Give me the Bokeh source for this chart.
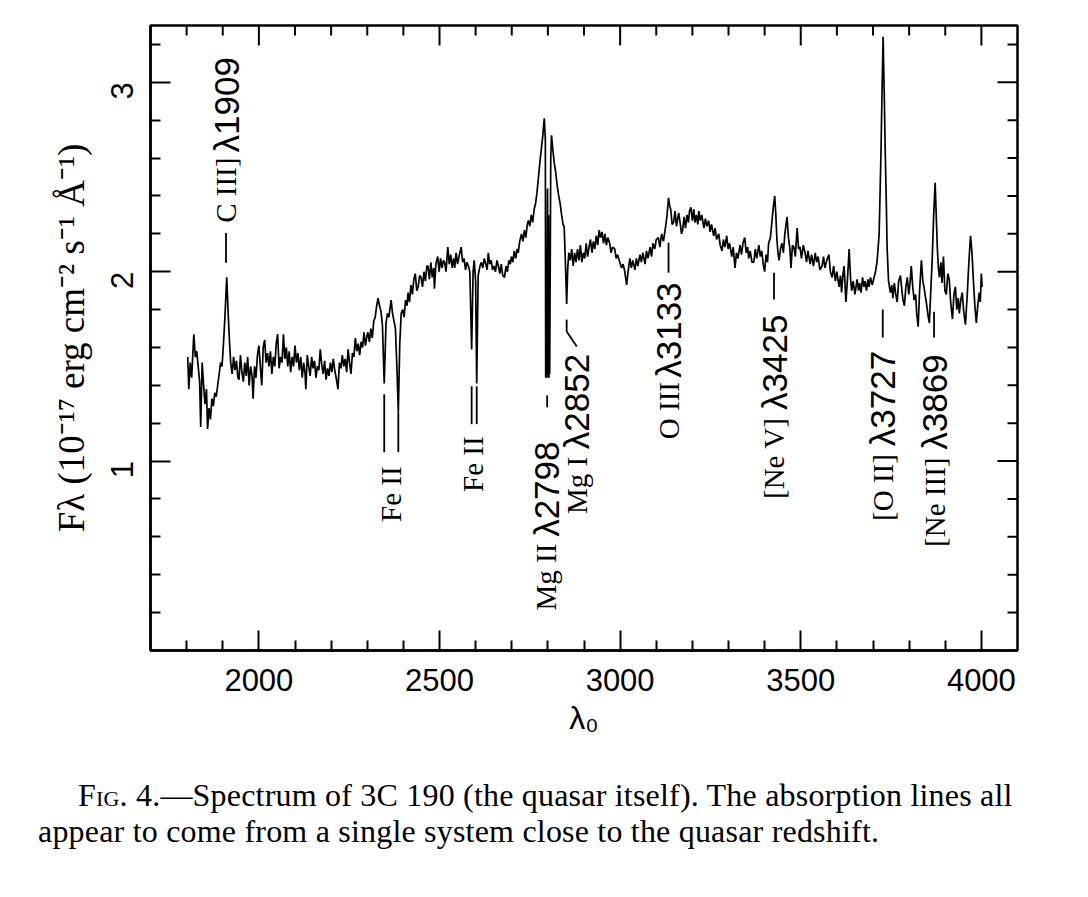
import math
from bokeh.plotting import figure
from bokeh.models import Range1d, LinearAxis, FixedTicker, Div, ColumnDataSource
from bokeh.layouts import column
from bokeh.embed import file_html
from bokeh.resources import INLINE
from bokeh.core.properties import value

# ---------------- data: rest-frame spectrum of 3C 190 ----------------
wavelength = [
    1803, 1806, 1810, 1814, 1818, 1820, 1824, 1828, 1832, 1836, 1839, 1843, 1847, 1851, 1855, 1858,
    1862, 1866, 1870, 1874, 1878, 1882, 1886, 1890, 1894, 1898, 1902, 1906, 1911, 1915, 1919, 1922,
    1926, 1930, 1934, 1938, 1942, 1945, 1949, 1953, 1957, 1961, 1965, 1969, 1973, 1977, 1981, 1984,
    1988, 1992, 1996, 2000, 2004, 2008, 2012, 2016, 2020, 2024, 2028, 2032, 2036, 2040, 2044, 2048,
    2052, 2056, 2060, 2064, 2068, 2072, 2076, 2080, 2084, 2088, 2092, 2096, 2100, 2104, 2108, 2112,
    2116, 2120, 2124, 2128, 2130, 2134, 2138, 2142, 2146, 2150, 2154, 2158, 2162, 2166, 2170, 2174,
    2178, 2182, 2186, 2190, 2194, 2198, 2202, 2206, 2210, 2214, 2219, 2223, 2227, 2231, 2235, 2239,
    2243, 2247, 2251, 2255, 2259, 2263, 2267, 2271, 2275, 2279, 2283, 2287, 2291, 2295, 2299, 2302,
    2306, 2310, 2314, 2318, 2322, 2326, 2330, 2334, 2338, 2342, 2347, 2352, 2356, 2360, 2366, 2370,
    2374, 2378, 2382, 2386, 2390, 2394, 2398, 2402, 2406, 2410, 2413, 2417, 2421, 2425, 2429, 2433,
    2437, 2441, 2445, 2449, 2453, 2457, 2461, 2465, 2468, 2472, 2476, 2480, 2484, 2486, 2490, 2495,
    2499, 2503, 2507, 2511, 2514, 2518, 2523, 2527, 2531, 2535, 2539, 2542, 2546, 2550, 2554, 2560,
    2564, 2568, 2572, 2576, 2580, 2584, 2589, 2593, 2596, 2600, 2603, 2607, 2612, 2616, 2620, 2624,
    2628, 2632, 2635, 2639, 2643, 2647, 2651, 2655, 2659, 2663, 2667, 2671, 2675, 2680, 2684, 2688,
    2692, 2696, 2699, 2703, 2707, 2711, 2715, 2718, 2722, 2727, 2731, 2735, 2739, 2743, 2746, 2750,
    2754, 2758, 2762, 2766, 2770, 2774, 2778, 2782, 2786, 2790, 2793, 2794, 2795, 2796, 2797, 2799,
    2801, 2802, 2803, 2804, 2805, 2808, 2810, 2814, 2818, 2822, 2826, 2830, 2834, 2838, 2842, 2845,
    2848, 2852, 2855, 2858,
    2862, 2866, 2870, 2874, 2878, 2882, 2886, 2890, 2894, 2898, 2902, 2906, 2910, 2914, 2918, 2922,
    2926, 2930, 2934, 2938, 2942, 2946, 2950, 2954, 2958, 2962, 2966, 2971, 2975, 2979, 2985, 2989,
    2993, 2999, 3004, 3008, 3012, 3016, 3018, 3022, 3027, 3031, 3035, 3041, 3045, 3049, 3055, 3059,
    3063, 3069, 3073, 3077, 3083, 3087, 3091, 3096, 3100, 3106, 3110, 3115, 3120, 3126, 3130, 3134,
    3137, 3140, 3144, 3148, 3152, 3156, 3162, 3166, 3170, 3173, 3177, 3181, 3185, 3189, 3192, 3196,
    3200, 3204, 3207, 3211, 3215, 3218, 3222, 3226, 3232, 3236, 3240, 3245, 3249, 3253, 3259, 3263,
    3267, 3273, 3277, 3282, 3286, 3290, 3295, 3299, 3303, 3309, 3313, 3318, 3322, 3326, 3332, 3336,
    3340, 3345, 3349, 3353, 3356, 3360, 3365, 3370, 3374, 3378, 3384, 3388, 3392, 3396, 3400, 3404,
    3408, 3411, 3416, 3420, 3424, 3428, 3431, 3434, 3437, 3440, 3444, 3448, 3452, 3456, 3462, 3466,
    3470, 3473, 3477, 3481, 3485, 3490, 3494, 3498, 3502, 3507, 3512, 3516, 3520, 3526, 3530, 3535,
    3540, 3544, 3548, 3553, 3559, 3563, 3567, 3572, 3578, 3582, 3587, 3591, 3596, 3600, 3606, 3610,
    3613, 3617, 3620, 3625, 3629, 3634, 3638, 3641, 3645, 3650, 3656, 3660, 3663, 3667, 3671, 3675,
    3678, 3682, 3686, 3689, 3693, 3698, 3703, 3707, 3711, 3714, 3717, 3720, 3722, 3725, 3728, 3731,
    3734, 3737, 3739, 3743, 3748, 3752, 3755, 3759, 3763, 3767, 3771, 3776, 3780, 3783, 3787, 3791,
    3795, 3799, 3803, 3806, 3810, 3814, 3818, 3821, 3825, 3829, 3834, 3838, 3841, 3845, 3849, 3853,
    3856, 3860, 3864, 3868, 3872, 3875, 3878, 3881, 3884, 3888, 3891, 3895, 3899, 3903, 3907, 3911,
    3915, 3920, 3924, 3928, 3932, 3936, 3939, 3943, 3947, 3951, 3956, 3959, 3961, 3964, 3967, 3970,
    3974, 3978, 3982, 3986, 3990, 3994, 3997, 4000, 4002,
]
flux = [
    1.55, 1.38, 1.52, 1.44, 1.60, 1.67, 1.55, 1.58, 1.50, 1.42, 1.18, 1.52, 1.40, 1.30, 1.38, 1.17,
    1.28, 1.22, 1.33, 1.29, 1.36, 1.34, 1.40, 1.46, 1.52, 1.50, 1.62, 1.76, 1.97, 1.78, 1.62, 1.52,
    1.46, 1.55, 1.48, 1.53, 1.44, 1.43, 1.56, 1.47, 1.42, 1.52, 1.45, 1.55, 1.40, 1.50, 1.45, 1.33,
    1.50, 1.44, 1.56, 1.61, 1.50, 1.40, 1.60, 1.64, 1.52, 1.57, 1.50, 1.58, 1.46, 1.55, 1.50, 1.62,
    1.67, 1.49, 1.55, 1.52, 1.67, 1.54, 1.60, 1.50, 1.58, 1.47, 1.55, 1.50, 1.61, 1.52, 1.57, 1.48,
    1.55, 1.44, 1.52, 1.46, 1.38, 1.56, 1.50, 1.45, 1.55, 1.49, 1.53, 1.44, 1.50, 1.48, 1.59, 1.51,
    1.46, 1.53, 1.43, 1.49, 1.45, 1.52, 1.47, 1.54, 1.48, 1.44, 1.38, 1.52, 1.49, 1.56, 1.50, 1.54,
    1.47, 1.59, 1.52, 1.46, 1.57, 1.55, 1.65, 1.58, 1.62, 1.56, 1.63, 1.60, 1.68, 1.61, 1.66, 1.68,
    1.63, 1.70, 1.65, 1.74, 1.76, 1.82, 1.86, 1.82, 1.79, 1.72, 1.41, 1.73, 1.78, 1.76, 1.85, 1.78,
    1.74, 1.70, 1.50, 1.26, 1.62, 1.78, 1.80, 1.76, 1.85, 1.82, 1.89, 1.84, 1.93, 1.88, 1.96, 1.99,
    1.90, 1.92, 1.98, 1.97, 1.92, 2.00, 1.95, 2.03, 2.03, 1.96, 2.05, 1.97, 2.02, 1.91, 2.04, 2.08,
    2.00, 2.07, 2.02, 2.06, 2.05, 2.00, 2.13, 2.04, 2.09, 2.02, 2.07, 2.02, 2.10, 2.04, 2.08, 2.13,
    2.05, 2.07, 2.01, 2.05, 2.03, 2.00, 1.59, 2.00, 2.06, 1.95, 1.41, 1.98, 2.03, 2.05, 2.02, 2.07,
    2.04, 2.01, 2.10, 2.04, 2.06, 2.01, 2.03, 2.00, 2.06, 2.03, 1.99, 2.04, 1.98, 1.97, 2.03, 2.00,
    2.06, 2.04, 2.08, 2.05, 2.11, 2.07, 2.12, 2.10, 2.16, 2.20, 2.16, 2.22, 2.18, 2.25, 2.27, 2.24,
    2.30, 2.26, 2.33, 2.36, 2.42, 2.50, 2.58, 2.65, 2.72, 2.81, 2.70, 1.44, 1.62, 1.44, 1.58, 2.44,
    1.44, 2.30, 1.44, 1.60, 1.46, 2.60, 2.72, 2.64, 2.57, 2.52, 2.45, 2.40, 2.36, 2.30, 2.25, 2.24,
    2.08, 1.83, 2.02, 2.10,
    2.06, 2.12, 2.03, 2.10, 2.05, 2.12, 2.06, 2.14, 2.05, 2.10, 2.07, 2.15, 2.08, 2.13, 2.17, 2.10,
    2.16, 2.12, 2.19, 2.14, 2.22, 2.18, 2.21, 2.15, 2.20, 2.14, 2.18, 2.15, 2.10, 2.13, 2.12, 2.07,
    2.09, 2.05, 2.02, 2.04, 2.01, 1.96, 1.93, 2.00, 2.07, 2.02, 2.06, 2.01, 2.07, 2.03, 2.09, 2.05,
    2.10, 2.04, 2.11, 2.07, 2.13, 2.08, 2.15, 2.12, 2.17, 2.18, 2.13, 2.20, 2.16, 2.24, 2.30, 2.39,
    2.35, 2.33, 2.25, 2.26, 2.32, 2.24, 2.31, 2.26, 2.20, 2.22, 2.29, 2.23, 2.30, 2.26, 2.32, 2.34,
    2.27, 2.33, 2.26, 2.30, 2.25, 2.32, 2.27, 2.30, 2.23, 2.28, 2.24, 2.27, 2.21, 2.25, 2.19, 2.23,
    2.17, 2.20, 2.14, 2.11, 2.17, 2.13, 2.19, 2.12, 2.15, 2.08, 2.13, 2.02, 2.10, 2.07, 2.14, 2.09,
    2.15, 2.18, 2.10, 2.13, 2.07, 2.11, 2.05, 2.05, 2.12, 2.07, 2.14, 2.08, 2.11, 2.04, 2.00, 2.09,
    2.05, 2.15, 2.18, 2.26, 2.34, 2.40, 2.30, 2.17, 2.10, 2.06, 2.12, 2.15, 2.10, 2.20, 2.29, 2.18,
    2.12, 2.02, 2.14, 2.13, 2.08, 2.23, 2.12, 2.13, 2.07, 2.14, 2.10, 2.05, 2.11, 2.04, 2.09, 2.03,
    2.10, 2.05, 2.08, 2.01, 2.03, 2.08, 2.02, 2.06, 2.09, 2.00, 1.97, 2.03, 1.95, 2.00, 1.92, 1.98,
    1.89, 1.99, 2.03, 1.84, 1.95, 2.12, 1.96, 1.90, 1.95, 1.88, 1.96, 1.90, 1.94, 1.89, 1.97, 1.92,
    1.95, 1.90, 1.96, 1.92, 1.97, 1.93, 1.97, 2.00, 2.05, 2.12, 2.20, 2.45, 2.62, 2.95, 3.24, 2.95,
    2.62, 2.35, 2.13, 1.95, 1.89, 1.93, 1.86, 1.94, 1.88, 1.84, 1.95, 1.98, 1.90, 1.85, 1.82, 1.92,
    1.97, 1.88, 1.95, 2.03, 1.92, 1.85, 1.88, 1.78, 1.71, 1.90, 2.06, 1.95, 1.92, 1.87, 1.82, 1.76,
    1.73, 1.90, 2.07, 2.30, 2.47, 2.30, 2.13, 2.02, 1.97, 2.05, 1.94, 2.08, 1.90, 1.88, 1.99, 1.96,
    1.84, 1.75, 1.88, 1.92, 1.80, 1.86, 1.78, 1.85, 1.89, 1.79, 1.72, 1.82, 1.88, 2.00, 2.10, 2.19,
    2.10, 1.95, 1.82, 1.73, 1.82, 1.89, 1.84, 1.99, 1.92,
]

# axis ticks
x_tick_values = [2000, 2500, 3000, 3500, 4000]
x_tick_labels = ["2000", "2500", "3000", "3500", "4000"]
y_tick_values = [1, 2, 3]
y_tick_labels = ["1", "2", "3"]

# line identifications
species_names = ["C III]", "Fe II", "Fe II", "Mg II", "Mg I", "O III", "[Ne V]", "[O II]", "[Ne III]"]
rest_labels = ["λ1909", "", "", "λ2798", "λ2852", "λ3133", "λ3425", "λ3727", "λ3869"]
leader_wavelengths = [1909, 2347, 2386, 2589, 2603, 2798, 2852, 3134, 3426, 3727, 3869]

# ---------------- annotation placement (layout) ----------------
label_x = [1909, 2366, 2594, 2796, 2880, 3134, 3426, 3727, 3871]
species_y = [2.258, 0.679, 0.837, 0.211, 0.721, 1.116, 0.800, 0.684, 0.547]
rest_y = [2.630, None, None, 0.600, 1.063, 1.440, 1.270, 1.079, 1.060]
leader_y0 = [2.047, 1.047, 1.047, 1.195, 1.195, 1.284, 1.684, 1.995, 1.853, 1.653, 1.653]
leader_y1 = [2.205, 1.353, 1.258, 1.395, 1.395, 1.347, 1.747, 2.153, 1.995, 1.800, 1.789]

X0, X1, Y0, Y1 = 1700, 4100, 0.0, 3.3
W, H = 1088, 760
BL, BR, BT, BB = 150, 71, 25, 110

p = figure(width=W, height=H, output_backend="svg", toolbar_location=None,
           x_range=Range1d(X0, X1), y_range=Range1d(Y0, Y1),
           x_axis_type=None, y_axis_type=None,
           min_border_left=BL, min_border_right=BR, min_border_top=BT, min_border_bottom=BB,
           background_fill_color="white", border_fill_color="white")
p.outline_line_color = "black"
p.outline_line_width = 2.5

x_minor = [v for v in range(1800, 4100, 100) if v not in x_tick_values]
y_minor = [round(0.2 * k, 2) for k in range(1, 17) if k % 5 != 0]


def style_axis(ax):
    ax.major_tick_in = 20
    ax.major_tick_out = 0
    ax.minor_tick_in = 10
    ax.minor_tick_out = 0
    ax.axis_line_width = 2.5
    ax.major_tick_line_width = 2
    ax.minor_tick_line_width = 2
    ax.axis_line_color = "black"
    ax.major_tick_line_color = "black"
    ax.minor_tick_line_color = "black"
    ax.major_label_text_color = "black"
    ax.major_label_text_font = "Liberation Sans"
    ax.major_label_text_font_size = "31px"
    ax.axis_label_text_color = "black"


xb = LinearAxis(ticker=FixedTicker(ticks=x_tick_values, minor_ticks=x_minor),
                major_label_overrides={v: s for v, s in zip(x_tick_values, x_tick_labels)})
style_axis(xb)
xb.major_label_standoff = 18
xb.axis_label = "λ₀"
xb.axis_label_text_font = "Liberation Sans"
xb.axis_label_text_font_style = "normal"
xb.axis_label_text_font_size = "32px"
xb.axis_label_standoff = 6
p.add_layout(xb, "below")

yl = LinearAxis(ticker=FixedTicker(ticks=y_tick_values, minor_ticks=y_minor),
                major_label_overrides={v: s for v, s in zip(y_tick_values, y_tick_labels)})
style_axis(yl)
yl.major_label_orientation = math.pi / 2
yl.major_label_standoff = 28
yl.axis_label = "Fλ (10⁻¹⁷ erg cm⁻² s⁻¹ Å⁻¹)"
yl.axis_label_text_font = "Liberation Serif"
yl.axis_label_text_font_style = "normal"
yl.axis_label_text_font_size = "37px"
yl.axis_label_standoff = 6
p.add_layout(yl, "left")

# inward ticks on the top and right edges of the frame
fw = W - BL - BR
fh = H - BT - BB
dx = (X1 - X0) / fw   # data units per pixel
dy = (Y1 - Y0) / fh
p.segment(x0=x_tick_values, y0=[Y1] * 5, x1=x_tick_values, y1=[Y1 - 20 * dy] * 5,
          line_color="black", line_width=2)
p.segment(x0=x_minor, y0=[Y1] * len(x_minor), x1=x_minor, y1=[Y1 - 10 * dy] * len(x_minor),
          line_color="black", line_width=2)
p.segment(x0=[X1] * 3, y0=y_tick_values, x1=[X1 - 20 * dx] * 3, y1=y_tick_values,
          line_color="black", line_width=2)
p.segment(x0=[X1] * len(y_minor), y0=y_minor, x1=[X1 - 10 * dx] * len(y_minor), y1=y_minor,
          line_color="black", line_width=2)

# spectrum
p.line(wavelength, flux, line_color="black", line_width=1.7)

# leader ticks
p.segment(x0=leader_wavelengths, y0=leader_y0, x1=leader_wavelengths, y1=leader_y1,
          line_color="black", line_width=1.8)
p.segment(x0=[2852], y0=[1.684], x1=[2880], y1=[1.605], line_color="black", line_width=1.8)

# species names (serif) and rest wavelengths (sans)
sp_src = ColumnDataSource(dict(x=label_x, y=species_y, t=species_names))
p.text(x="x", y="y", text="t", source=sp_src, angle=math.pi / 2, text_align="left",
       text_baseline="middle", text_font=value("Liberation Serif"), text_font_size="29px",
       text_color="black")
wl_idx = [i for i, t in enumerate(rest_labels) if t]
wl_src = ColumnDataSource(dict(x=[label_x[i] for i in wl_idx], y=[rest_y[i] for i in wl_idx],
                               t=[rest_labels[i] for i in wl_idx]))
p.text(x="x", y="y", text="t", source=wl_src, angle=math.pi / 2, text_align="left",
       text_baseline="middle", text_font=value("Liberation Sans"), text_font_size="35px",
       text_color="black")

caption = Div(
    text=("<div style=\"font-family:'Liberation Serif',serif;font-size:32px;line-height:36px;"
          "color:#000;white-space:nowrap;padding:12px 0 0 33px;letter-spacing:0.2px;\">"
          "<span style=\"margin-left:40px\"><span style=\"font-variant:small-caps\">Fig.</span> "
          "4.—Spectrum of 3C 190 (the quasar itself). The absorption lines all</span><br>"
          "appear to come from a single system close to the quasar redshift.</div>"),
    width=1088, height=130)

layout = column(p, caption, spacing=0)
open("out.html", "w").write(file_html(layout, INLINE))
